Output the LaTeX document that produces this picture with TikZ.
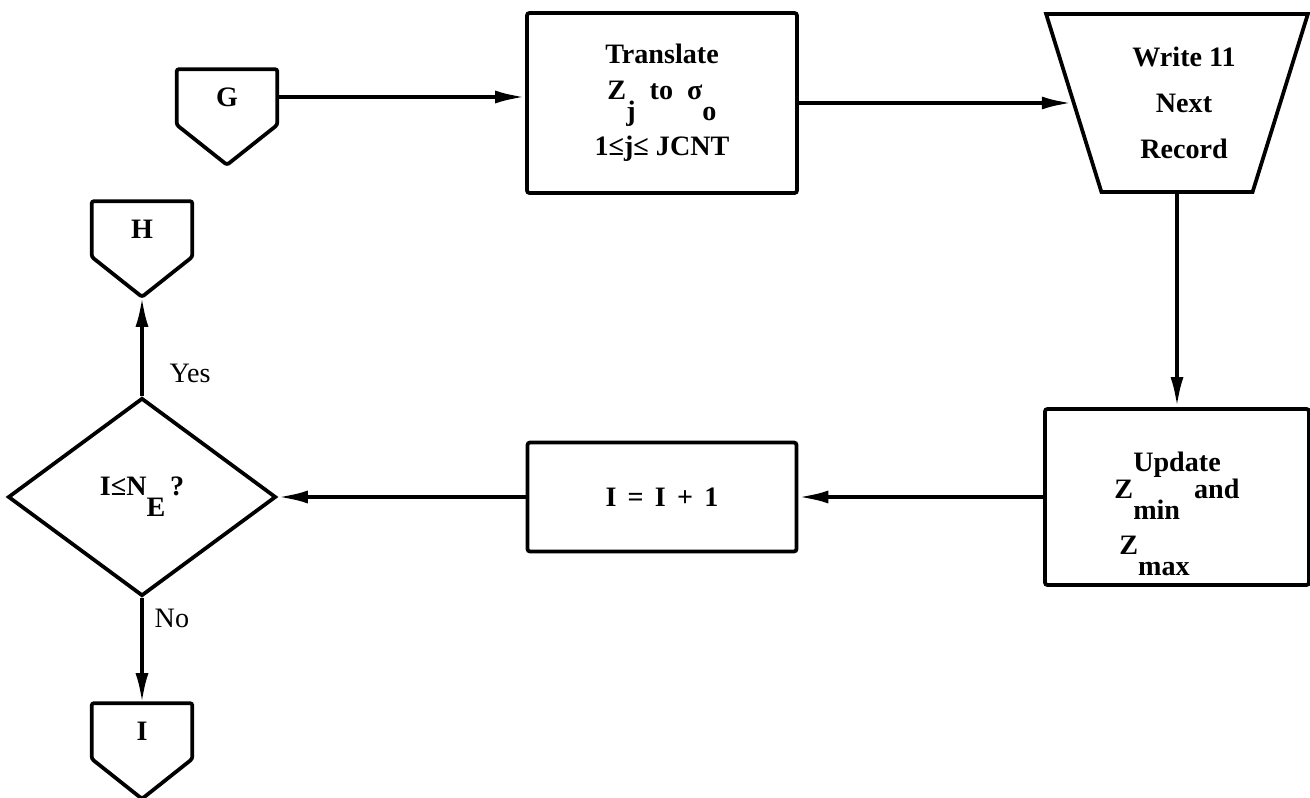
\documentclass[tikz,border=0pt]{standalone}
\usepackage{amsmath,amssymb}
\usepackage{fontspec}
\setmainfont{Liberation Serif}
\usetikzlibrary{arrows.meta, positioning, calc, shapes.geometric}

% subscripts set low, on their own half line
\newcommand{\dropsub}[1]{\raisebox{-0.75em}{#1}}

\begin{document}
\begin{tikzpicture}[x=0.2mm, y=-0.2mm,
    proc/.style={draw, line width=0.75mm, rounded corners=0.5mm, font=\fontsize{16}{19}\selectfont\bfseries, align=center, inner sep=2pt},
    io/.style={draw, line width=0.75mm, trapezium, shape border rotate=180, trapezium stretches=true,
               trapezium angle=69, font=\fontsize{16}{19}\selectfont\bfseries, align=center, inner sep=2pt},
    dec/.style={draw, line width=0.75mm, diamond, inner sep=0pt, font=\fontsize{16}{19}\selectfont\bfseries},
    conn/.style={minimum width=20mm, minimum height=11mm, inner sep=0pt, font=\fontsize{16}{19}\selectfont\bfseries},
    lbl/.style={font=\fontsize{16}{19}\selectfont},
    arr/.style={-{Latex[length=6mm, width=2.6mm]}, line width=0.75mm}]
  \useasboundingbox (0,0) rectangle (1310,798);
  \node[conn] (G) at (227,97) {G};
  \node[conn] (H) at (142,229) {H};
  \node[conn] (I) at (142,731) {I};
  \foreach \n in {G,H,I}
    \draw[line width=0.75mm, rounded corners=0.5mm] (\n.north west) -- (\n.north east) -- (\n.south east)
      -- ($(\n.south)+(0,-8mm)$) -- (\n.south west) -- cycle;
  \coordinate (Htip) at ($(H.south)+(0,-8mm)$);
  \node[proc, minimum width=54mm, minimum height=36mm] (trans) at (662,103)
    {Translate\\[0.5mm] Z\dropsub{j}\ \ to\ \ σ\dropsub{o}\\[1.5mm] 1≤j≤ JCNT};
  \node[io, minimum width=52.4mm, minimum height=35.6mm] (wr) at (1177,103) {\ \ Write 11\\[2.5mm] \ \ Next\\[2.5mm] \ \ Record};
  \node[proc, minimum width=52.8mm, minimum height=35.2mm] (upd) at (1177,497)
    {\mbox{}\\[4.1mm] Update\\[-1.3mm] Z\dropsub{min}\ \ and\\[3mm] Z\dropsub{max}\hspace*{9mm}};
  \node[proc, minimum width=53.8mm, minimum height=21.8mm] (incr) at (662,497)
    {I\hspace{0.4em}=\hspace{0.4em}I\hspace{0.4em}+\hspace{0.4em}1};
  \node[dec, minimum width=53.6mm, minimum height=39.6mm] (test) at (142,497) {I≤N\dropsub{E}\,?};
  \draw[arr] (G.east) -- (G.east -| trans.west);
  \draw[arr] (trans) -- (wr);
  \draw[arr] (wr) -- (upd);
  \draw[arr] (upd) -- (incr);
  \draw[arr] (incr) -- (test);
  \draw[arr] (test.north) -- node[pos=0.23, right=4mm, lbl]{Yes} (Htip);
  \draw[arr] (test.south) -- node[pos=0.2, right=1mm, lbl]{No} (I.north);
\end{tikzpicture}
\end{document}
